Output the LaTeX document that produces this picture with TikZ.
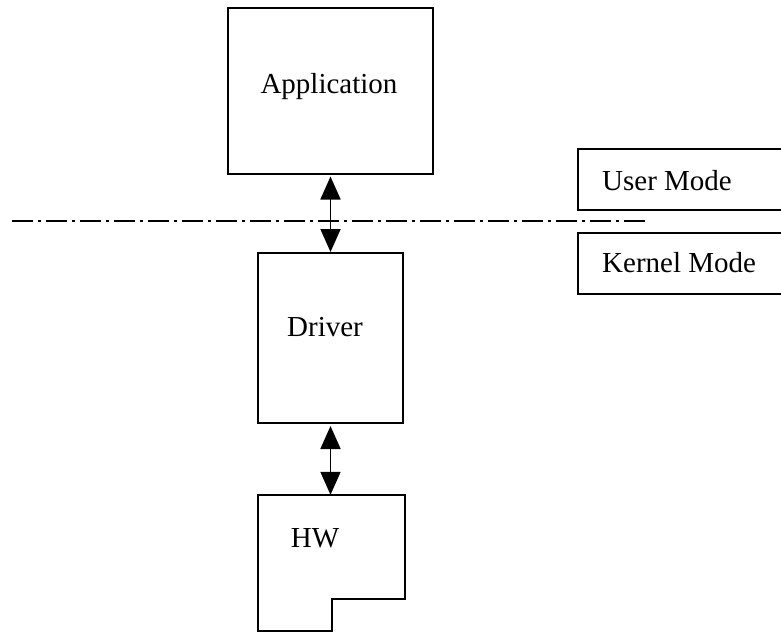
\documentclass[tikz,border=0pt]{standalone}
\usepackage{fontspec}
\setmainfont{Liberation Serif}
\usetikzlibrary{arrows.meta}
\begin{document}
\begin{tikzpicture}[x=1pt,y=-1pt,
  box/.style={draw, line width=2pt, minimum width=#1, inner sep=0pt},
  lbl/.style={font=\fontsize{29}{32}\selectfont, inner sep=0pt, anchor=base},
  modelbl/.style={lbl, anchor=base west},
  link/.style={line width=1.8pt, {Triangle[width=20pt,length=23pt]}-{Triangle[width=20pt,length=23pt]}},
  modeline/.style={line width=2pt, dash pattern=on 21pt off 5pt on 3pt off 5pt}
]
\useasboundingbox (0,0) rectangle (781,633);
\path[fill=white] (0,0) rectangle (781,633);

% process blocks
\node[box=205pt, minimum height=166pt] (app) at (330.5,90.5) {};
\node[lbl] (applbl) at (329,93) {Application};

\node[box=145pt, minimum height=170pt] (drv) at (330.5,338) {};
\node[lbl] (drvlbl) at (325,336) {Driver};

% hardware block: outline with a notch cut out of its lower right corner
\node[minimum width=147pt, minimum height=136pt, inner sep=0pt] (hw) at (331.5,563) {};
\draw[line width=2pt] (hw.north west) -- (hw.north east) -- ([yshift=32pt]hw.south east)
  -- ([yshift=32pt]hw.south) -- (hw.south) -- (hw.south west) -- cycle;
\node[lbl] (hwlbl) at (315,547) {HW};

% user / kernel boundary
\coordinate (bl) at (12,221);
\coordinate (br) at (648,221);
\draw[modeline] (bl) -- (br);

\node[draw, line width=2pt, minimum width=230pt, minimum height=61pt, inner sep=0pt] (user) at (693,179.5) {};
\node[modelbl] (userlbl) at (602,190) {User Mode};
\node[draw, line width=2pt, minimum width=230pt, minimum height=61pt, inner sep=0pt] (kern) at (693,263.5) {};
\node[modelbl] (kernlbl) at (602,272) {Kernel Mode};

% data paths
\draw[link] ([yshift=-2pt]app.south) -- (app.south |- drv.north);
\draw[link] ([yshift=-2pt]drv.south) -- (drv.south |- hw.north);
\end{tikzpicture}
\end{document}
